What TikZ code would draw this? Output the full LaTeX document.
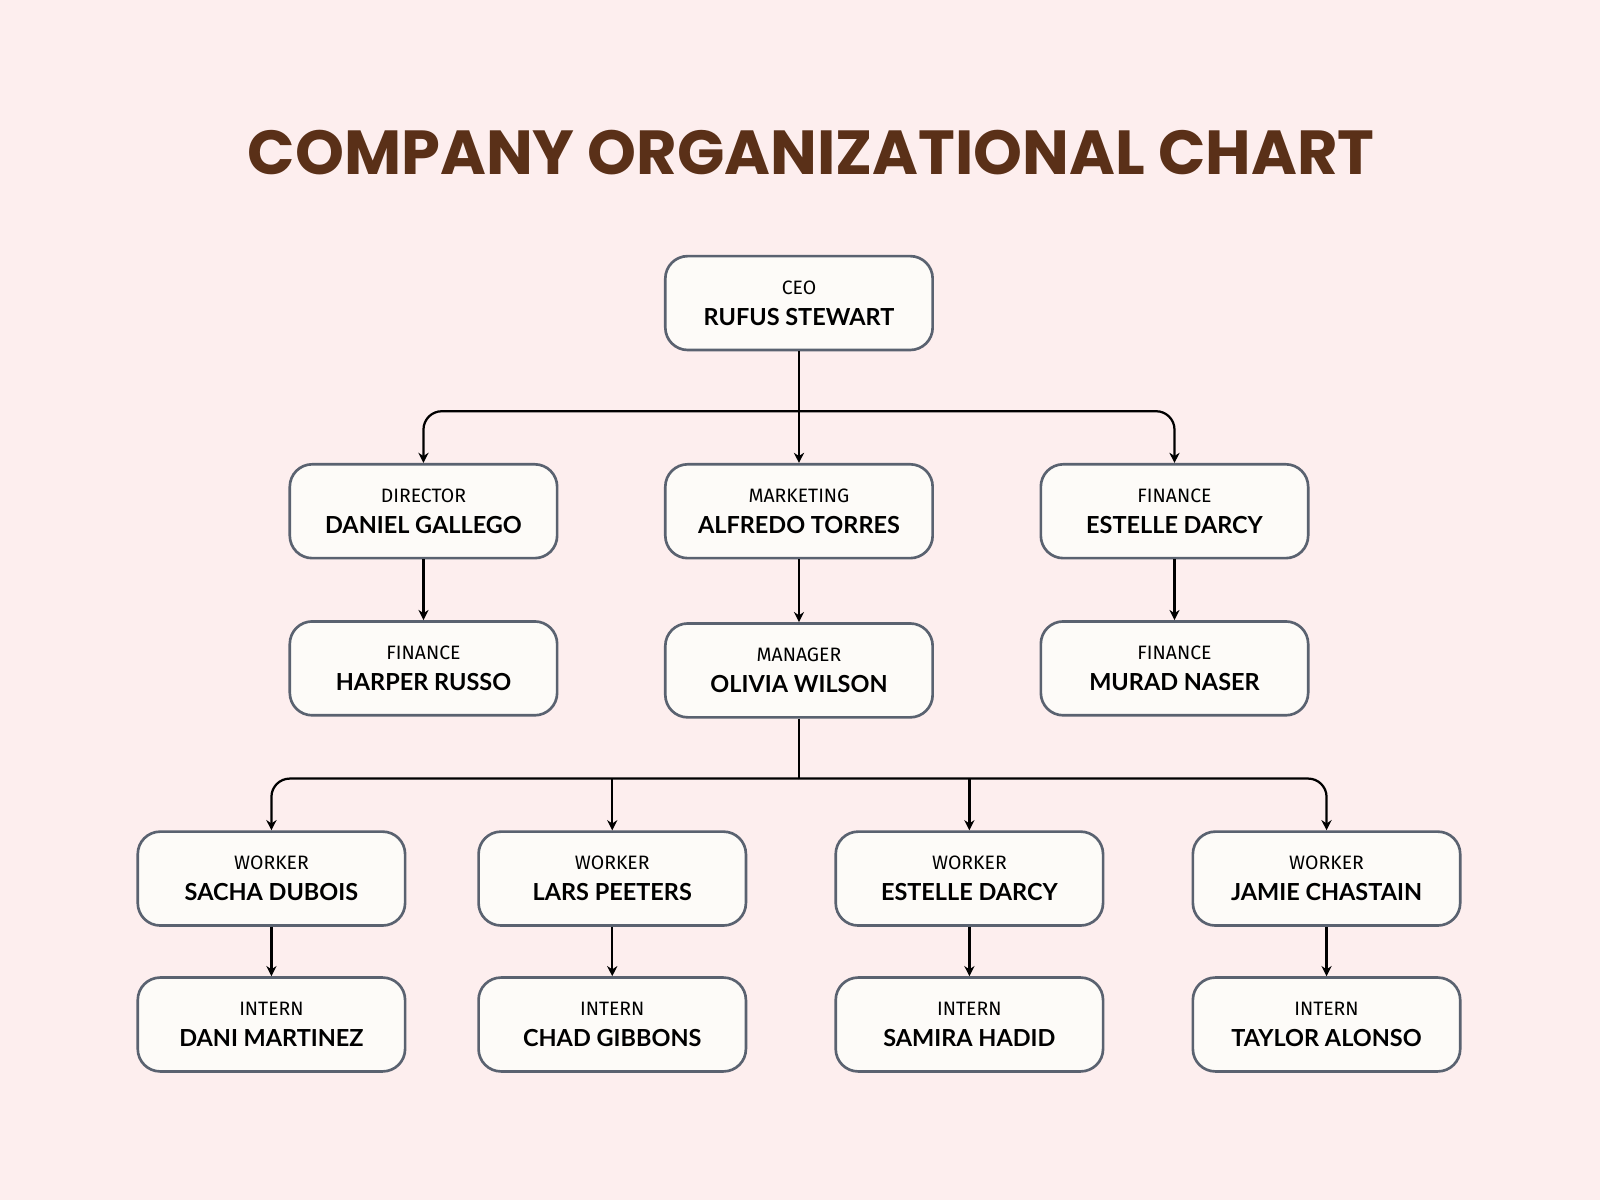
\documentclass[tikz,border=0pt]{standalone}
\usepackage{fontspec}
\setmainfont{Poppins}
\newfontfamily\lab{Fira Sans}
\newfontfamily\nm{Lato}
\usetikzlibrary{arrows.meta}
\definecolor{bg}{HTML}{FDEEEE}
\definecolor{bx}{HTML}{FDFBF8}
\definecolor{bd}{HTML}{5A6270}
\definecolor{ttl}{HTML}{5A3018}
\begin{document}
\begin{tikzpicture}[x=0.5pt,y=-0.5pt,
 box/.style={draw=bd,line width=1.3pt,fill=bx,rounded corners=11pt,minimum width=131pt,minimum height=46pt,align=center,inner sep=0pt},
 conn/.style={line width=1.1pt,-{Stealth[length=5pt,width=5pt]}},
 bus/.style={line width=1.1pt,rounded corners=9pt,-{Stealth[length=5pt,width=5pt]}}]
\fill[bg] (0,0) rectangle (1568,1176);
\useasboundingbox (0,0) rectangle (1568,1176);
\node[font=\fontsize{30.5}{32}\selectfont\bfseries,text=ttl] (t) at (795,150) {COMPANY ORGANIZATIONAL CHART};
\newcommand{\bxn}[5]{\node[box] (#1) at (#2,#3) {{\lab\fontsize{9.5}{11}\selectfont #4}\\[3pt]{\nm\fontsize{11.5}{13}\selectfont\bfseries #5}};}
\bxn{ceo}{783}{297}{CEO}{RUFUS STEWART}
\bxn{a}{415}{501}{DIRECTOR}{DANIEL GALLEGO}
\bxn{b}{783}{501}{MARKETING}{ALFREDO TORRES}
\bxn{c}{1151}{501}{FINANCE}{ESTELLE DARCY}
\bxn{a2}{415}{655}{FINANCE}{HARPER RUSSO}
\bxn{b2}{783}{657}{MANAGER}{OLIVIA WILSON}
\bxn{c2}{1151}{655}{FINANCE}{MURAD NASER}
\bxn{w1}{266}{861}{WORKER}{SACHA DUBOIS}
\bxn{w2}{600}{861}{WORKER}{LARS PEETERS}
\bxn{w3}{950}{861}{WORKER}{ESTELLE DARCY}
\bxn{w4}{1300}{861}{WORKER}{JAMIE CHASTAIN}
\bxn{i1}{266}{1004}{INTERN}{DANI MARTINEZ}
\bxn{i2}{600}{1004}{INTERN}{CHAD GIBBONS}
\bxn{i3}{950}{1004}{INTERN}{SAMIRA HADID}
\bxn{i4}{1300}{1004}{INTERN}{TAYLOR ALONSO}
\coordinate (j1) at (783,403);
\coordinate (j2) at (783,763);
\draw[conn] (ceo.south) -- (b.north);
\draw[bus] (j1) -| (a.north);
\draw[bus] (j1) -| (c.north);
\draw[conn] (a.south) -- (a2.north);
\draw[conn] (b.south) -- (b2.north);
\draw[conn] (c.south) -- (c2.north);
\draw[line width=1.1pt] (b2.south) -- (j2);
\draw[bus] (j2) -| (w1.north);
\draw[bus] (j2) -| (w4.north);
\draw[conn] (w2.north |- j2) -- (w2.north);
\draw[conn] (w3.north |- j2) -- (w3.north);
\draw[conn] (w1.south) -- (i1.north);
\draw[conn] (w2.south) -- (i2.north);
\draw[conn] (w3.south) -- (i3.north);
\draw[conn] (w4.south) -- (i4.north);
\end{tikzpicture}
\end{document}
